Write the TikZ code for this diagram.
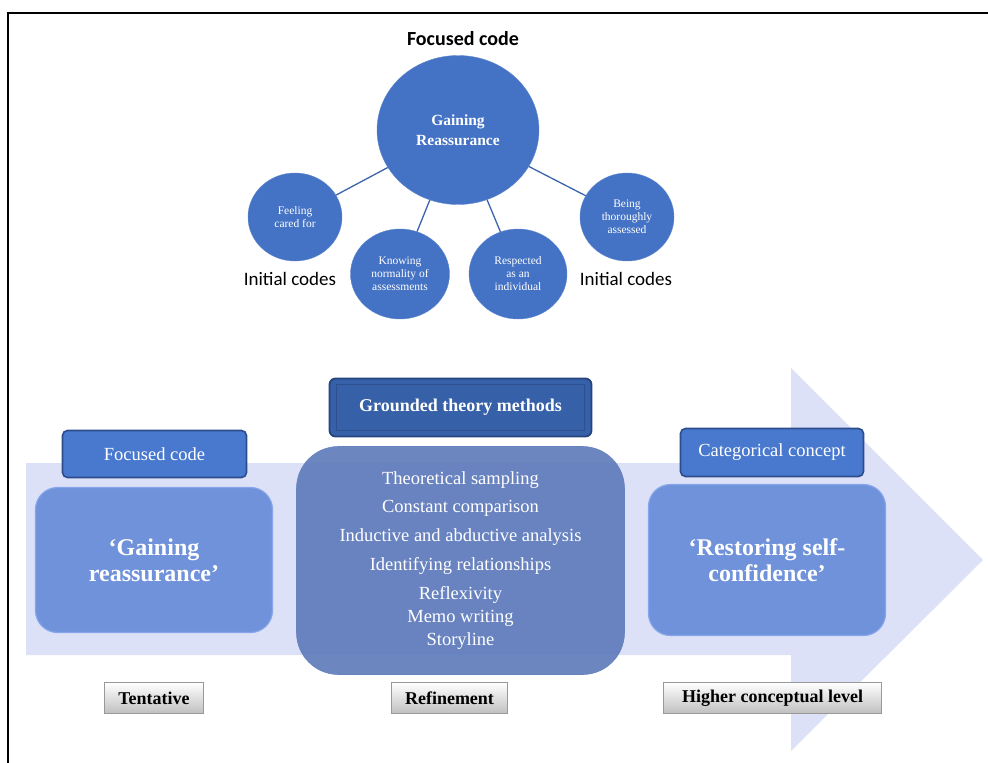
\documentclass[tikz,border=0pt]{standalone}
\usepackage{fontspec}
\setmainfont{Liberation Serif}
\newfontfamily\calibrifont{Carlito}
\usetikzlibrary{shapes.geometric}
\definecolor{circblue}{HTML}{4472C4}
\definecolor{linkblue}{HTML}{3B64AD}
\definecolor{arrowfill}{HTML}{DDE1F8}
\definecolor{tagfill}{HTML}{4879CF}
\definecolor{tagdraw}{HTML}{2C4C8C}
\definecolor{codefill}{HTML}{7092DA}
\definecolor{codedraw}{HTML}{86A6EC}
\definecolor{gtfill}{HTML}{3660A8}
\definecolor{gtdraw}{HTML}{25457F}
\definecolor{midfill}{HTML}{5F7CBB}
\tikzset{
  circ/.style={ellipse, fill=circblue, draw=circblue!85!white, inner sep=0pt, text=white, align=center,
    font=\fontsize{11.5}{13}\selectfont},
  link/.style={draw=linkblue, line width=1.3pt},
  lbl/.style={font=\calibrifont\fontsize{19}{22}\selectfont, inner sep=0pt},
  tagbox/.style={rectangle, rounded corners=5pt, fill=tagfill, draw=tagdraw, line width=1.6pt, text=white,
    font=\fontsize{18.5}{22}\selectfont, inner sep=0pt},
  codebox/.style={rectangle, rounded corners=22pt, fill=codefill, draw=codedraw, line width=1.2pt, text=white,
    align=center, font=\bfseries\fontsize{24}{26}\selectfont, inner sep=0pt},
  levelbox/.style={rectangle, top color=white, bottom color=black!25, draw=black!40, line width=1pt,
    font=\bfseries\fontsize{18}{20}\selectfont, inner sep=0pt},
}
\begin{document}
\begin{tikzpicture}[x=1pt, y=-1pt]
\useasboundingbox (0,0) rectangle (988,763);
% frame
\draw[line width=2pt] (8,764) -- (8,13) -- (989,13);
% top diagram
\node[font=\calibrifont\bfseries\fontsize{20}{24}\selectfont, inner sep=0pt] (title) at (463,39) {Focused code};
\node[circ, minimum width=162pt, minimum height=149pt, font=\bfseries\fontsize{15.5}{19.5}\selectfont] (big) at (458,130) {Gaining\\Reassurance};
\node[circ, minimum width=94pt, minimum height=88pt] (feel) at (295,217) {Feeling\\cared for};
\node[circ, minimum width=99pt, minimum height=90pt] (know) at (400,274) {Knowing\\normality of\\assessments};
\node[circ, minimum width=98pt, minimum height=90pt] (resp) at (518,274) {Respected\\as an\\individual};
\node[circ, minimum width=94pt, minimum height=88pt] (being) at (627,217) {Being\\thoroughly\\assessed};
\draw[link] (big) -- (feel);
\draw[link] (big) -- (know);
\draw[link] (big) -- (resp);
\draw[link] (big) -- (being);
\node[lbl] (initL) at (290,279) {Initial codes};
\node[lbl] (initR) at (626,279) {Initial codes};
% big arrow
\fill[arrowfill] (26,463) -- (791,463) -- (791,368) -- (983,560) -- (791,751) -- (791,655) -- (26,655) -- cycle;
% left column
\node[tagbox, minimum width=184pt, minimum height=47pt] (fc) at (154.5,454) {Focused code};
\node[codebox, minimum width=237pt, minimum height=145pt] (gain) at (154,560) {‘Gaining\\reassurance’};
% middle column
\node[rectangle, rounded corners=42pt, fill=midfill, fill opacity=0.92, text opacity=1, draw=midfill!95!white, line width=0.6pt,
  minimum width=328pt, minimum height=228pt, inner sep=0pt, text=white, align=center,
  font=\fontsize{18.5}{23}\selectfont] (mid) at (460.5,560.5)
  {Theoretical sampling\\[5.7pt]Constant comparison\\[5.7pt]Inductive and abductive analysis\\[5.7pt]Identifying relationships\\[6.5pt]Reflexivity\\Memo writing\\Storyline};
\node[rectangle, rounded corners=6pt, fill=gtfill, draw=gtdraw, line width=1.8pt, minimum width=262pt, minimum height=58pt,
  inner sep=0pt, text=white, font=\bfseries\fontsize{18}{22}\selectfont] (gt) at (460.5,407.5) {Grounded theory methods};
\draw[gtdraw!60!gtfill, line width=0.8pt] ([shift={(8pt,7pt)}]gt.south west) rectangle ([shift={(-8pt,-7pt)}]gt.north east);
% right column
\node[tagbox, minimum width=183pt, minimum height=48pt] (cc) at (772,452.5) {Categorical concept};
\node[codebox, minimum width=237pt, minimum height=151pt] (rest) at (767,560) {‘Restoring self-\\confidence’};
% level labels
\node[levelbox, minimum width=99pt, minimum height=31pt] (tent) at (154,698) {Tentative};
\node[levelbox, minimum width=116pt, minimum height=31pt] (refi) at (449.5,698) {Refinement};
\node[levelbox, minimum width=218pt, minimum height=31pt] (high) at (772.5,698) {Higher conceptual level};
\end{tikzpicture}
\end{document}
